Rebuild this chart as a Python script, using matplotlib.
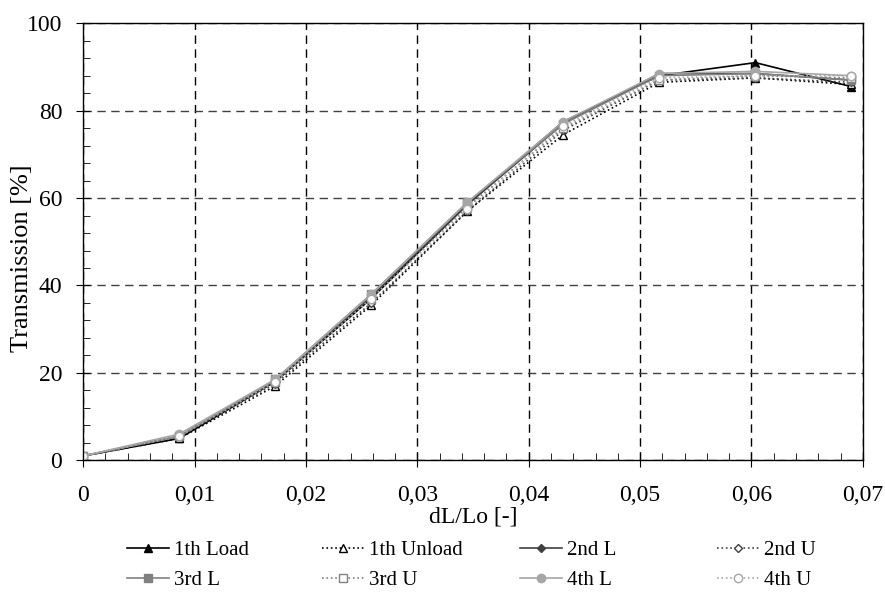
import numpy as np
import matplotlib.pyplot as plt
from matplotlib.ticker import MultipleLocator, FuncFormatter

plt.rcParams['font.family'] = ['Liberation Serif', 'DejaVu Serif']

strain = [0.0, 0.00862, 0.01724, 0.02586, 0.03448, 0.04310, 0.05172, 0.06034, 0.06897]

load1 = [1.0, 5.0, 18.0, 37.0, 58.5, 77.5, 88.0, 91.0, 85.5]
unload1 = [1.0, 5.0, 17.0, 35.5, 57.0, 74.5, 86.5, 87.5, 86.0]
load2 = [1.0, 5.5, 18.0, 37.5, 58.5, 77.0, 88.5, 88.5, 87.0]
unload2 = [1.0, 5.5, 17.5, 36.0, 57.0, 75.5, 87.0, 87.5, 86.5]
load3 = [1.0, 5.5, 18.5, 38.0, 59.0, 77.0, 88.0, 88.5, 87.0]
unload3 = [1.0, 5.5, 18.0, 37.0, 58.0, 76.0, 87.0, 88.0, 87.5]
load4 = [1.0, 6.0, 18.5, 38.0, 59.0, 77.5, 88.5, 89.0, 88.0]
unload4 = [1.0, 5.5, 18.0, 37.0, 57.5, 76.5, 87.5, 88.0, 88.0]

fig = plt.figure(figsize=(8.85, 5.97), dpi=100)
ax = fig.add_axes([0.094, 0.229, 0.881, 0.732])

l1, = ax.plot(strain, load1, '-', color='black', lw=1.2, marker='^', ms=6, label='1th Load')
u1, = ax.plot(strain, unload1, ':', color='black', lw=1.2, marker='^', ms=6, mfc='white', label='1th Unload')
l2, = ax.plot(strain, load2, '-', color='#404040', lw=1.2, marker='D', ms=4, label='2nd L')
u2, = ax.plot(strain, unload2, ':', color='#404040', lw=1.2, marker='D', ms=4, mfc='white', label='2nd U')
l3, = ax.plot(strain, load3, '-', color='#808080', lw=1.2, marker='s', ms=6, label='3rd L')
u3, = ax.plot(strain, unload3, ':', color='#808080', lw=1.2, marker='s', ms=6, mfc='white', label='3rd U')
l4, = ax.plot(strain, load4, '-', color='#a6a6a6', lw=1.2, marker='o', ms=6, label='4th L')
u4, = ax.plot(strain, unload4, ':', color='#a6a6a6', lw=1.2, marker='o', ms=6, mfc='white', label='4th U')

ax.set_xlim(0, 0.07)
ax.set_ylim(0, 100)
ax.xaxis.set_major_locator(MultipleLocator(0.01))
ax.xaxis.set_minor_locator(MultipleLocator(0.002))
ax.yaxis.set_major_locator(MultipleLocator(20))
ax.yaxis.set_minor_locator(MultipleLocator(4))
ax.xaxis.set_major_formatter(FuncFormatter(lambda v, p: '0' if abs(v) < 1e-9 else f'{v:.2f}'.replace('.', ',')))
ax.tick_params(which='major', direction='inout', length=10, labelsize=17, color='black')
ax.tick_params(which='minor', direction='in', length=5)
ax.tick_params(axis='x', which='major', pad=13)
ax.tick_params(axis='y', which='major', pad=10)

ax.grid(True, which='major', axis='x', ls=(0, (6, 4)), color='black', lw=1)
ax.grid(True, which='major', axis='y', ls=(0, (6, 4)), color='#404040', lw=1)
for s in ax.spines.values():
    s.set_linewidth(1)

ax.set_xlabel('dL/Lo [-]', fontsize=17, labelpad=0)
ax.set_ylabel('Transmission [%]', fontsize=19)
ax.yaxis.set_label_coords(-0.064, 0.462)

# legend laid out as in the reference: 4 columns, 2 rows
columns = [(l1, l3), (u1, u3), (l2, l4), (u2, u4)]
col_x = [127, 322, 520, 717]
for hs, x in zip(columns, col_x):
    leg = fig.legend(handles=list(hs), loc='lower left', bbox_to_anchor=(x / 885, 0.012),
                     frameon=False, fontsize=15, handlelength=2.0, borderpad=0,
                     borderaxespad=0, handletextpad=0.25, labelspacing=0.5, numpoints=1)

fig.savefig('out.png', dpi=100)
